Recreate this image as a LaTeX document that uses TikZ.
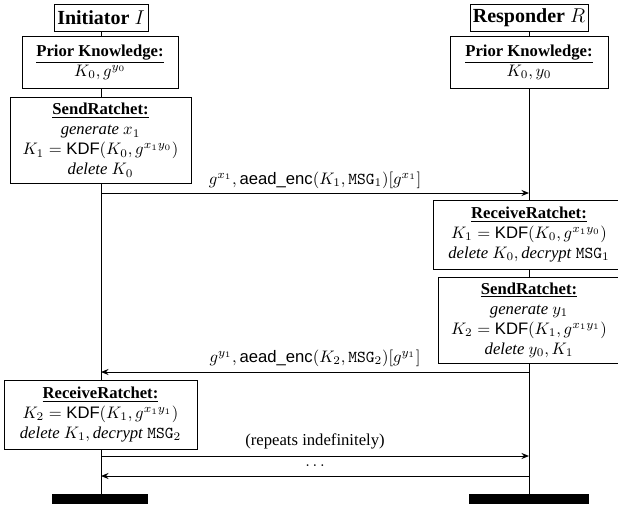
\documentclass[tikz,border=0pt]{standalone}
\usepackage{fontspec}
\setmainfont{Liberation Serif}
\setsansfont{Liberation Sans}
\usetikzlibrary{arrows.meta,backgrounds}
\begin{document}
\begin{tikzpicture}[x=0.6pt,y=-0.6pt,
  box/.style={draw, fill=white, line width=0.6pt, align=center, inner sep=0pt},
  bar/.style={fill=black, inner sep=0pt, minimum height=6pt},
  life/.style={line width=0.6pt},
  msg/.style={line width=0.6pt, -{Stealth[length=4.5pt,width=3.6pt]}},
  lbl/.style={inner sep=0pt}]
\useasboundingbox (0,0) rectangle (618,506);
% headers
\node[box, minimum width=56.4pt, minimum height=16.2pt] (init) at (101,17.5) {\large\textbf{Initiator} $I$};
\node[box, minimum width=70.8pt, minimum height=16.2pt] (resp) at (529,17.5) {\large\textbf{Responder} $R$};
% initiator boxes
\node[box, minimum width=93.6pt, minimum height=31.2pt] (pkI) at (100,62) {\underline{\textbf{Prior Knowledge:}}\\ $K_0, g^{y_0}$};
\node[box, minimum width=108.6pt, minimum height=51.6pt] (sendI) at (100.5,140) {\underline{\textbf{SendRatchet:}}\\ \textit{generate} $x_1$\\ $K_1 = \textsf{KDF}(K_0, g^{x_1 y_0})$\\ \textit{delete} $K_0$};
\node[box, minimum width=115.8pt, minimum height=41.4pt] (recvI) at (100.5,414.5) {\underline{\textbf{ReceiveRatchet:}}\\ $K_2 = \textsf{KDF}(K_1, g^{x_1 y_1})$\\ \textit{delete} $K_1,\,$\textit{decrypt} \texttt{MSG}$_2$};
% responder boxes
\node[box, minimum width=94.8pt, minimum height=31.2pt] (pkR) at (529,62) {\underline{\textbf{Prior Knowledge:}}\\ $K_0, y_0$};
\node[box, minimum width=115.2pt, minimum height=41.4pt] (recvR) at (529,234.5) {\underline{\textbf{ReceiveRatchet:}}\\ $K_1 = \textsf{KDF}(K_0, g^{x_1 y_0})$\\ \textit{delete} $K_0,\,$\textit{decrypt} \texttt{MSG}$_1$};
\node[box, minimum width=109.2pt, minimum height=51.6pt] (sendR) at (529,320) {\underline{\textbf{SendRatchet:}}\\ \textit{generate} $y_1$\\ $K_2 = \textsf{KDF}(K_1, g^{x_1 y_1})$\\ \textit{delete} $y_0, K_1$};
% terminators
\node[bar, minimum width=57.6pt] (endI) at (100,499) {};
\node[bar, minimum width=72pt] (endR) at (529,499) {};
% lifelines
\begin{scope}[on background layer]
\draw[life] (init.south) -- (init.south |- endI.north);
\draw[life] (resp.south) -- (resp.south |- endR.north);
\end{scope}
% message endpoints
\coordinate (m1s) at (101,193); \coordinate (m1e) at (529,193);
\coordinate (m2s) at (529,372); \coordinate (m2e) at (101,372);
\coordinate (m3s) at (101,456); \coordinate (m3e) at (529,456);
\coordinate (m4s) at (529,476); \coordinate (m4e) at (101,476);
\draw[msg] (m1s) -- (m1e);
\draw[msg] (m2s) -- (m2e);
\draw[msg] (m3s) -- (m3e);
\draw[msg] (m4s) -- (m4e);
% labels
\node[lbl] (l1) at (315,180) {$g^{x_1},\textsf{aead\_enc}(K_1,\texttt{MSG}_1)[g^{x_1}]$};
\node[lbl] (l2) at (315,358) {$g^{y_1},\textsf{aead\_enc}(K_2,\texttt{MSG}_2)[g^{y_1}]$};
\node[lbl] (l3) at (315,441) {(repeats indefinitely)};
\node[lbl] (l4) at (315,466) {$\dots$};
\end{tikzpicture}
\end{document}
